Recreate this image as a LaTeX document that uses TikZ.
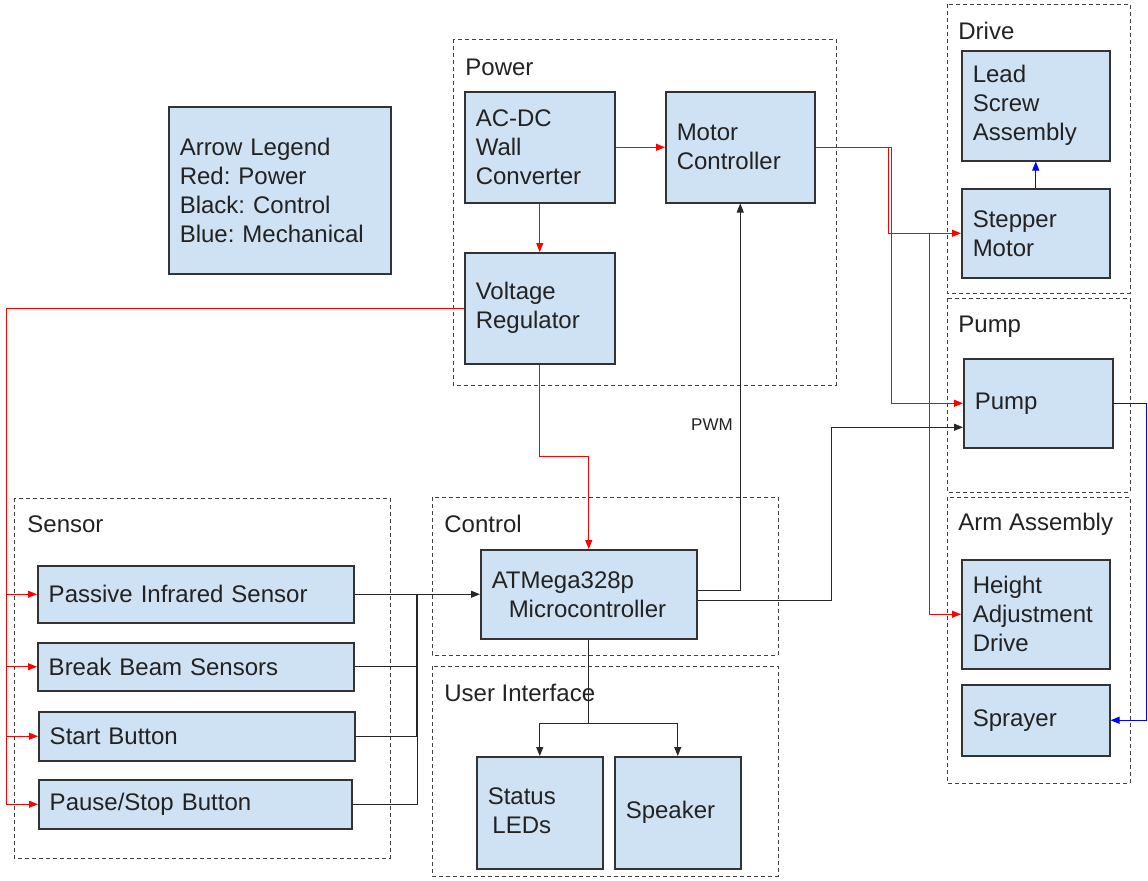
\documentclass[tikz,border=0pt]{standalone}
\usepackage{fontspec}
\setmainfont{Liberation Sans}
\frenchspacing
\usetikzlibrary{arrows.meta}
\definecolor{boxfill}{HTML}{CFE2F3}
\definecolor{boxline}{HTML}{333333}
\definecolor{txt}{HTML}{222222}
\tikzset{
	blk/.style={draw=boxline, line width=0.75pt, fill=boxfill, text=txt, anchor=north west, inner xsep=5.5pt, inner ysep=0pt, align=left, font=\fontsize{12}{14.5}\selectfont},
	grp/.style={draw=black!75, dash pattern=on 2pt off 1.5pt, line width=0.5pt},
	grplbl/.style={anchor=west, inner sep=0pt, text=txt, font=\fontsize{12}{14.5}\selectfont},
	pwr/.style={red, line width=0.5pt, -{Triangle[length=4.5pt,width=3.5pt]}},
	ctl/.style={black!85, line width=0.5pt, -{Triangle[length=4.5pt,width=3.5pt]}},
	mech/.style={blue, line width=0.5pt, -{Triangle[length=4.5pt,width=3.5pt]}}
}
\begin{document}
\begin{tikzpicture}[x=0.5pt, y=-0.5pt]
			\useasboundingbox (0,0) rectangle (1148,880);
			\draw [grp] (453,39) rectangle (836,385);
			\draw [grp] (947,4) rectangle (1130,293);
			\draw [grp] (947,298) rectangle (1130,492);
			\draw [grp] (947,497) rectangle (1130,783);
			\draw [grp] (14,498) rectangle (390,858);
			\draw [grp] (432,497) rectangle (778,655);
			\draw [grp] (432,666) rectangle (778,876);
			\node [grplbl] (lpower) at (465,67) {Power};
			\node [grplbl] (ldrive) at (958,31) {Drive};
			\node [grplbl] (lpump) at (958,327) {Pump};
			\node [grplbl] (larm) at (958,524) {Arm Assembly};
			\node [grplbl] (lsensor) at (27,524) {Sensor};
			\node [grplbl] (lcontrol) at (444,524) {Control};
			\node [grplbl] (lui) at (444,693) {User Interface};
			\node [blk, minimum width=111pt, text width=100pt, minimum height=83.5pt] (legend) at (168,106) {Arrow Legend\\Red: Power\\Black: Control\\Blue: Mechanical};
			\node [blk, minimum width=75pt, text width=64pt, minimum height=55.5pt] (acdc) at (464,91) {AC-DC\\Wall\\Converter};
			\node [blk, minimum width=74.5pt, text width=63.5pt, minimum height=55.5pt] (motor) at (665,91) {Motor\\Controller};
			\node [blk, minimum width=75pt, text width=64pt, minimum height=55.5pt] (vreg) at (464,252) {Voltage\\Regulator};
			\node [blk, minimum width=108pt, text width=97pt, minimum height=44.5pt] (mcu) at (480,549) {ATMega328p\\\hspace*{8.5pt}Microcontroller};
			\node [blk, minimum width=158pt, text width=147pt, minimum height=28.5pt] (pir) at (37,565) {Passive Infrared Sensor};
			\node [blk, minimum width=158pt, text width=147pt, minimum height=24pt] (beam) at (37,642) {Break Beam Sensors};
			\node [blk, minimum width=158pt, text width=147pt, minimum height=24.5pt] (start) at (38,711) {Start Button};
			\node [blk, minimum width=156.5pt, text width=145.5pt, minimum height=24.5pt] (pause) at (38,779) {Pause/Stop Button};
			\node [blk, minimum width=63pt, text width=52pt, minimum height=56pt] (leds) at (476,756) {\begin{tabular}{@{}c@{}}Status\\LEDs\end{tabular}};
			\node [blk, minimum width=63pt, text width=52pt, minimum height=56pt] (spk) at (614,756) {Speaker};
			\node [blk, minimum width=74pt, text width=63pt, minimum height=55pt] (lead) at (961,50) {Lead\\Screw\\Assembly};
			\node [blk, minimum width=74pt, text width=63pt, minimum height=44.5pt] (stepper) at (961,188) {Stepper\\Motor};
			\node [blk, minimum width=74.5pt, text width=63.5pt, minimum height=44.5pt] (pump) at (963,358) {Pump};
			\node [blk, minimum width=74pt, text width=63pt, minimum height=54.5pt] (height) at (961,559) {Height\\Adjustment\\Drive};
			\node [blk, minimum width=74pt, text width=63pt, minimum height=35.5pt] (spray) at (961,684) {Sprayer};
			\node [inner sep=0pt, text=txt, font=\fontsize{8.5}{10}\selectfont] (pwm) at (712,425) {PWM};
			\coordinate (lrail) at (6,0);
			\coordinate (bus) at (417,0);
			\coordinate (tap) at (929,0);
			\draw [pwr] (acdc.east) -- (motor.west);
			\draw [pwr] (acdc.south) -- (vreg.north);
			\draw [pwr] (vreg.west) -| (lrail |- pause.west) -- (pause.west);
			\foreach \s in {pir,beam,start} {
				\draw [pwr] (lrail |- \s.west) -- (\s.west);
			}
			\draw [pwr] (vreg.south) -- ++(0,92) -| (mcu.north);
			\draw [pwr] (motor.east) -- ++(73,0) |- (stepper.west);
			\draw [pwr] (motor.east) -- ++(76,0) |- (pump.west);
			\draw [pwr] (tap |- stepper.west) |- (height.west);
			\draw [ctl] (pir.east) -- (mcu.west);
			\foreach \s in {beam,start,pause} {
				\draw [ctl, -] (\s.east) -| (bus |- pir.east);
			}
			\draw [ctl, -, line width=1pt] (bus |- pir.east) -- (bus |- start.east);
			\draw [ctl] ([yshift=2pt]mcu.east) -| (motor.south);
			\draw [ctl] ([yshift=-3pt]mcu.east) -- ++(134,0) |- ([yshift=-12pt]pump.west);
			\draw [ctl] (mcu.south) -- ++(0,84) -| (leds.north);
			\draw [ctl] (mcu.south) -- ++(0,84) -| (spk.north);
			\draw [mech] (stepper.north) -- (lead.south);
			\draw [mech] (pump.east) -- ++(33,0) |- (spray.east);
			\end{tikzpicture}
\end{document}
